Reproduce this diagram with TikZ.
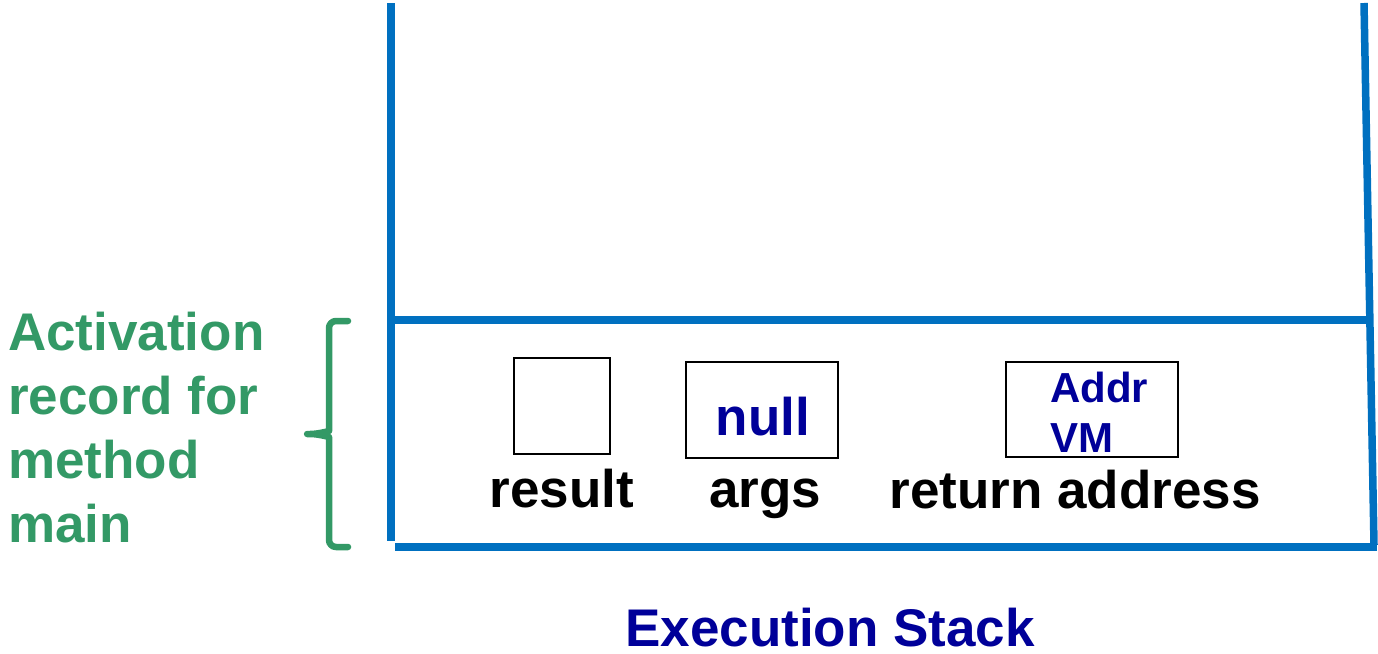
\documentclass[tikz,border=0pt]{standalone}
\usepackage{fontspec}
\setmainfont{Liberation Sans}
\definecolor{wallblue}{HTML}{0070C0}
\definecolor{inkblue}{HTML}{000099}
\definecolor{recgreen}{HTML}{339966}
\begin{document}
\begin{tikzpicture}[x=1pt,y=-1pt,
  wall/.style={draw=wallblue,line width=7.5pt},
  slot/.style={draw=black,line width=2pt,inner sep=0pt},
  bigtext/.style={font=\bfseries\fontsize{53}{64}\selectfont,inner sep=0pt},
  midtext/.style={font=\bfseries\fontsize{42}{50}\selectfont,inner sep=0pt},
  brace/.style={draw=recgreen,line width=6.5pt,line cap=round,line join=round}]
\useasboundingbox (0,0) rectangle (1378,653);

% stack walls
\coordinate (tl) at (391,3);
\coordinate (bl) at (391,541);
\coordinate (tr) at (1364,3);
\coordinate (br) at (1374,545);
\coordinate (ml) at (391,320);
\coordinate (mr) at (1368,320);
\coordinate (b1) at (395,547);
\coordinate (b2) at (1377,547);
\draw[wall] (tl) -- (bl);
\draw[wall] (tr) -- (br);
\draw[wall] (ml) -- (mr);
\draw[wall] (b1) -- (b2);

% slots of the activation record
\node[slot,minimum width=96pt,minimum height=96pt] (res) at (562,406) {};
\node[slot,minimum width=152pt,minimum height=96pt] (arg) at (762,410) {};
\node[slot,minimum width=172pt,minimum height=95pt] (ret) at (1092,409.5) {};

\node[bigtext,text=inkblue,anchor=base] (nullv) at (763,435) {null};
\node[midtext,text=inkblue,anchor=base west] (addr) at (1050,402) {Addr};
\node[midtext,text=inkblue,anchor=base west] (vm) at (1050,452) {VM};

\node[bigtext,anchor=base] (reslbl) at (562,507) {result};
\node[bigtext,anchor=base] (arglbl) at (765,507) {args};
\node[bigtext,anchor=base] (retlbl) at (1075,508) {return address};

\node[bigtext,text=inkblue,anchor=base] (title) at (830,646) {Execution Stack};

% brace marking the record
\coordinate (btop) at (348,321);
\coordinate (btip) at (303,434);
\coordinate (bbot) at (348,547);
\draw[brace,rounded corners=7pt] (btop) -- (329,321) -- (329,424)
  .. controls (329,431) and (318,434) .. (btip)
  .. controls (318,434) and (329,437) .. (329,444)
  -- (329,547) -- (bbot);

\node[bigtext,text=recgreen,anchor=north west,align=left] (reclbl) at (8,312)
  {Activation\\record for\\method\\main};
\end{tikzpicture}
\end{document}
